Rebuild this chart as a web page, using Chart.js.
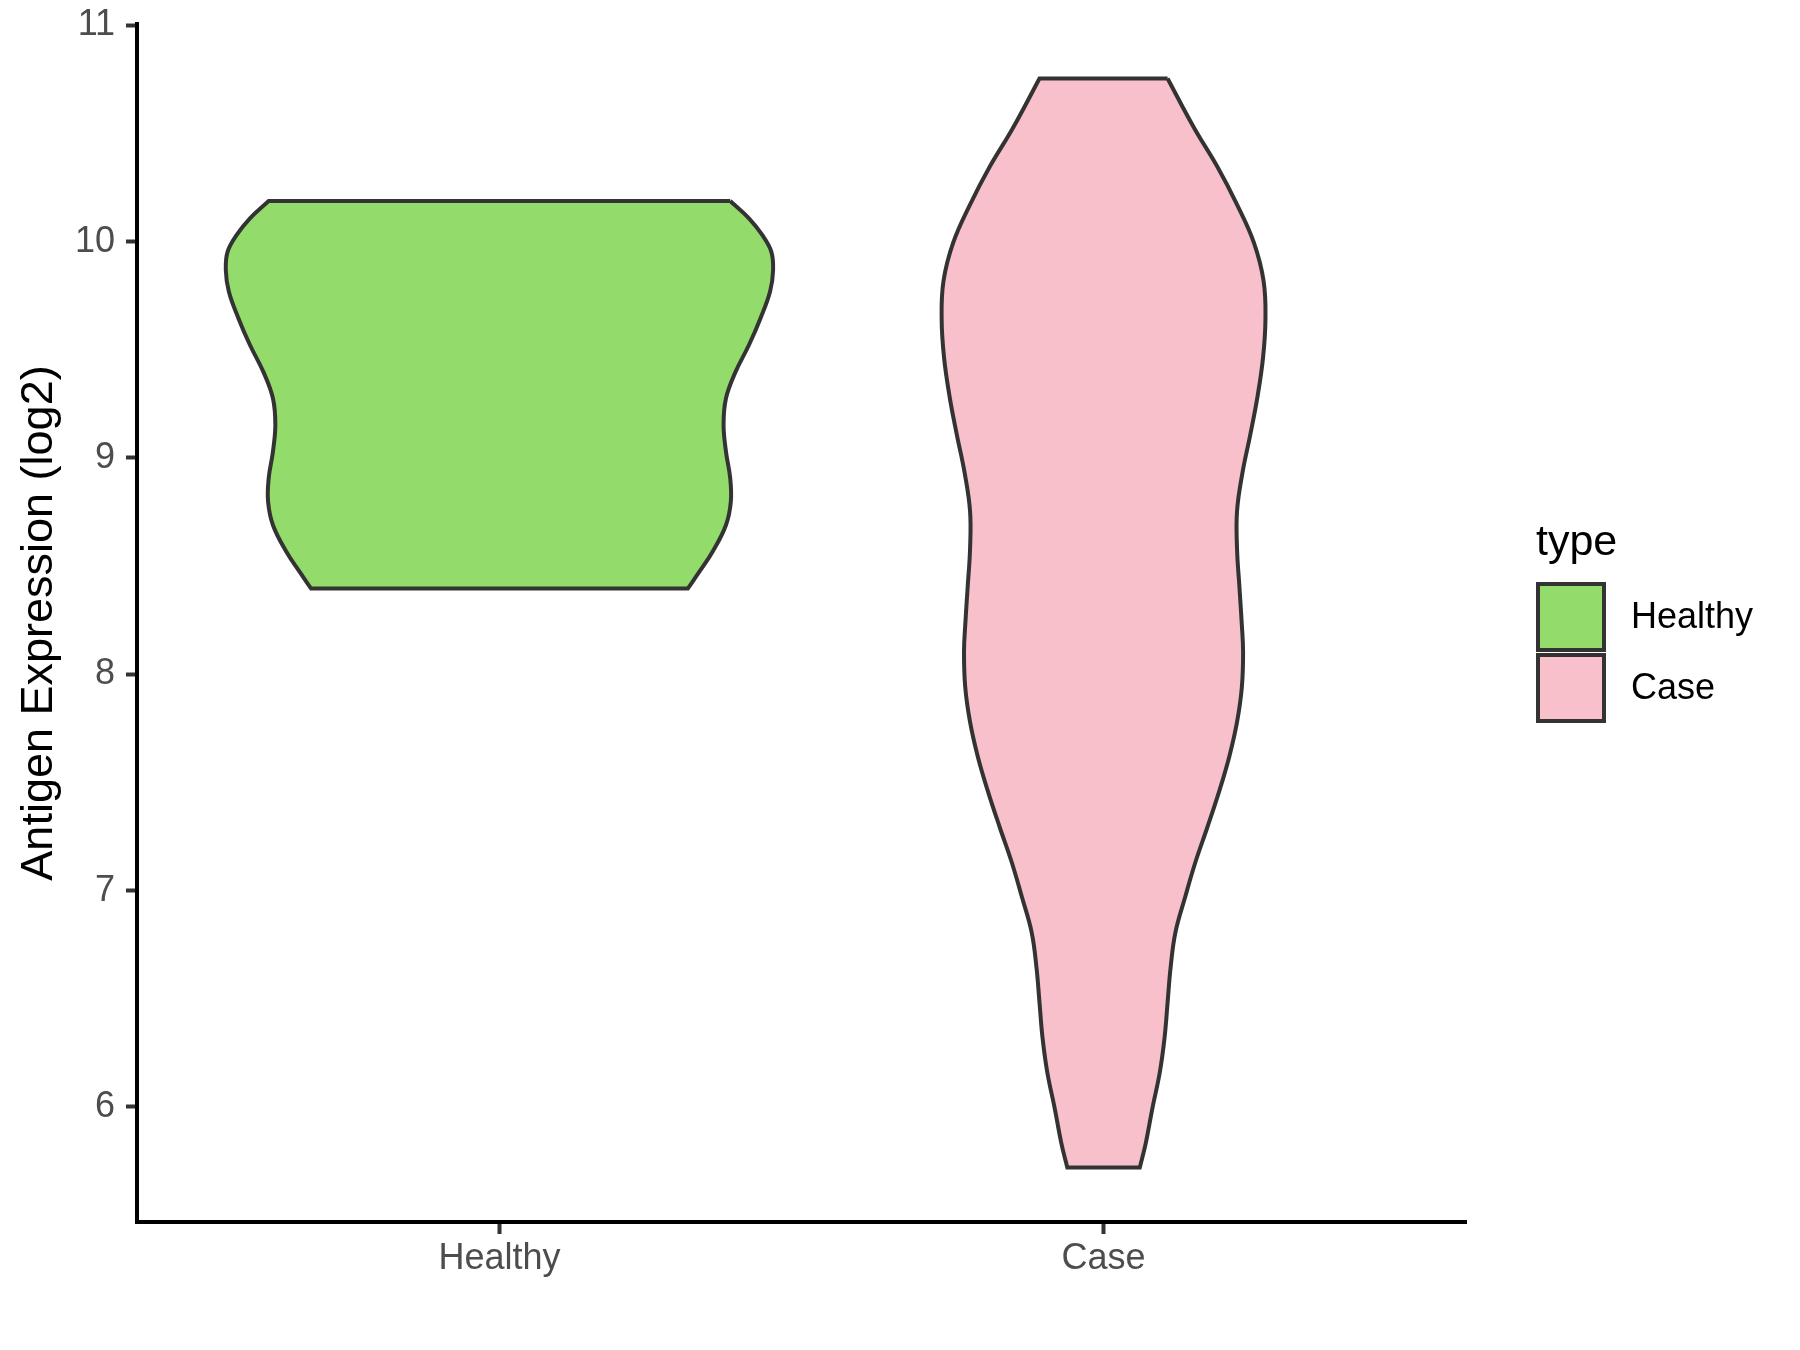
<!DOCTYPE html>
<html lang="en">
<head>
    <meta charset="UTF-8">
    <title>Antigen Expression Violin</title>
    <script src="https://cdn.jsdelivr.net/npm/chart.js"></script>
    <style>
        body { margin: 0; background: #ffffff; }
        canvas { display: block; }
    </style>
</head>
<body>
    <canvas id="myChart" width="1800" height="1350"></canvas>

    <script>
        // categories and the violin outlines
        var categories = ['Healthy', 'Case'];
        var fillColors = ['#93DB6B', '#F8C0CB'];

        // expression values (log2), top to bottom, and half width of the violin at each value
        var healthyY = [10.188, 10.108, 10.031, 9.954, 9.869, 9.769, 9.645, 9.522, 9.399, 9.276,
                        9.153, 9.029, 8.906, 8.798, 8.690, 8.567, 8.474, 8.397];
        var healthyW = [0.382, 0.413, 0.435, 0.450, 0.453, 0.448, 0.432, 0.413, 0.391, 0.375,
                        0.371, 0.375, 0.382, 0.383, 0.375, 0.353, 0.331, 0.312];

        var caseY = [10.754, 10.525, 10.348, 10.171, 9.994, 9.817, 9.640, 9.463, 9.286, 9.109,
                     8.932, 8.755, 8.578, 8.401, 8.225, 8.104, 7.942, 7.780, 7.618, 7.455,
                     7.294, 7.131, 6.969, 6.807, 6.644, 6.482, 6.320, 6.158, 5.996, 5.834, 5.720];
        var caseW = [0.106, 0.150, 0.188, 0.221, 0.249, 0.265, 0.268, 0.264, 0.255, 0.243,
                     0.230, 0.221, 0.221, 0.225, 0.229, 0.231, 0.229, 0.221, 0.208, 0.191,
                     0.172, 0.152, 0.135, 0.119, 0.111, 0.106, 0.101, 0.093, 0.081, 0.070, 0.060];

        var yTicks = [6, 7, 8, 9, 10, 11];
        var yRange = [5.468, 11.006];
        var xRange = [0.4, 2.6];

        // outline: right side top->bottom, left side bottom->top, corners doubled so they stay sharp
        function violin(center, ys, ws) {
            var pts = [];
            var n = ys.length;
            pts.push({ x: center + ws[0], y: ys[0] });
            for (var i = 0; i < n; i++) pts.push({ x: center + ws[i], y: ys[i] });
            pts.push({ x: center + ws[n - 1], y: ys[n - 1] });
            pts.push({ x: center - ws[n - 1], y: ys[n - 1] });
            for (var j = n - 1; j >= 0; j--) pts.push({ x: center - ws[j], y: ys[j] });
            pts.push({ x: center - ws[0], y: ys[0] });
            pts.push({ x: center + ws[0], y: ys[0] });
            pts.push({ x: center + ws[0], y: ys[0] });
            return pts;
        }

        var font = "'Liberation Sans', Arial, Helvetica, sans-serif";

        // ggplot style legend on the right
        var legendPlugin = {
            id: 'typeLegend',
            afterDraw: function (chart) {
                var ctx = chart.ctx;
                ctx.save();
                ctx.fillStyle = '#000000';
                ctx.font = '43px ' + font;
                ctx.textAlign = 'left';
                ctx.textBaseline = 'alphabetic';
                ctx.fillText('type', 1536, 555);
                var top = 584;
                for (var i = 0; i < categories.length; i++) {
                    var y = top + i * 71;
                    ctx.fillStyle = fillColors[i];
                    ctx.fillRect(1538, y, 66, 66);
                    ctx.lineWidth = 4;
                    ctx.strokeStyle = '#333333';
                    ctx.strokeRect(1538, y, 66, 66);
                    ctx.fillStyle = '#000000';
                    ctx.font = '36px ' + font;
                    ctx.textBaseline = 'middle';
                    ctx.fillText(categories[i], 1631, y + 34);
                }
                ctx.restore();
            }
        };

        var ctx = document.getElementById('myChart').getContext('2d');
        var myChart = new Chart(ctx, {
            type: 'scatter',
            data: {
                datasets: [
                    {
                        label: categories[0],
                        data: violin(1, healthyY, healthyW),
                        showLine: true,
                        fill: 'shape',
                        backgroundColor: fillColors[0],
                        borderColor: '#333333',
                        borderWidth: 4,
                        tension: 0.4,
                        pointRadius: 0
                    },
                    {
                        label: categories[1],
                        data: violin(2, caseY, caseW),
                        showLine: true,
                        fill: 'shape',
                        backgroundColor: fillColors[1],
                        borderColor: '#333333',
                        borderWidth: 4,
                        tension: 0.4,
                        pointRadius: 0
                    }
                ]
            },
            options: {
                responsive: false,
                animation: false,
                devicePixelRatio: 1,
                layout: { padding: { left: 0, right: 334, top: 24, bottom: 0 } },
                plugins: {
                    legend: { display: false },
                    tooltip: { enabled: false }
                },
                scales: {
                    x: {
                        type: 'linear',
                        min: xRange[0],
                        max: xRange[1],
                        afterBuildTicks: function (axis) {
                            axis.ticks = categories.map(function (c, i) { return { value: i + 1 }; });
                        },
                        afterFit: function (axis) {
                            axis.height = 128;
                            axis.paddingLeft = 0;
                            axis.paddingRight = 0;
                        },
                        ticks: {
                            callback: function (v) { return categories[v - 1]; },
                            color: '#4D4D4D',
                            font: { family: font, size: 36 },
                            padding: 3,
                            maxRotation: 0
                        },
                        grid: {
                            drawOnChartArea: false,
                            tickLength: 12,
                            tickWidth: 4,
                            tickColor: '#333333'
                        },
                        border: { display: true, color: '#000000', width: 4 }
                    },
                    y: {
                        min: yRange[0],
                        max: yRange[1],
                        afterBuildTicks: function (axis) {
                            axis.ticks = yTicks.map(function (v) { return { value: v }; });
                        },
                        afterFit: function (axis) {
                            axis.width = 137;
                            axis.paddingTop = 0;
                            axis.paddingBottom = 0;
                        },
                        ticks: {
                            color: '#4D4D4D',
                            font: { family: font, size: 36 },
                            padding: 11
                        },
                        grid: {
                            drawOnChartArea: false,
                            tickLength: 11,
                            tickWidth: 4,
                            tickColor: '#333333'
                        },
                        border: { display: true, color: '#000000', width: 4 },
                        title: {
                            display: true,
                            text: 'Antigen Expression (log2)',
                            color: '#000000',
                            font: { family: font, size: 45 },
                            padding: { top: 13, bottom: 0 }
                        }
                    }
                }
            },
            plugins: [legendPlugin]
        });
    </script>
</body>
</html>
